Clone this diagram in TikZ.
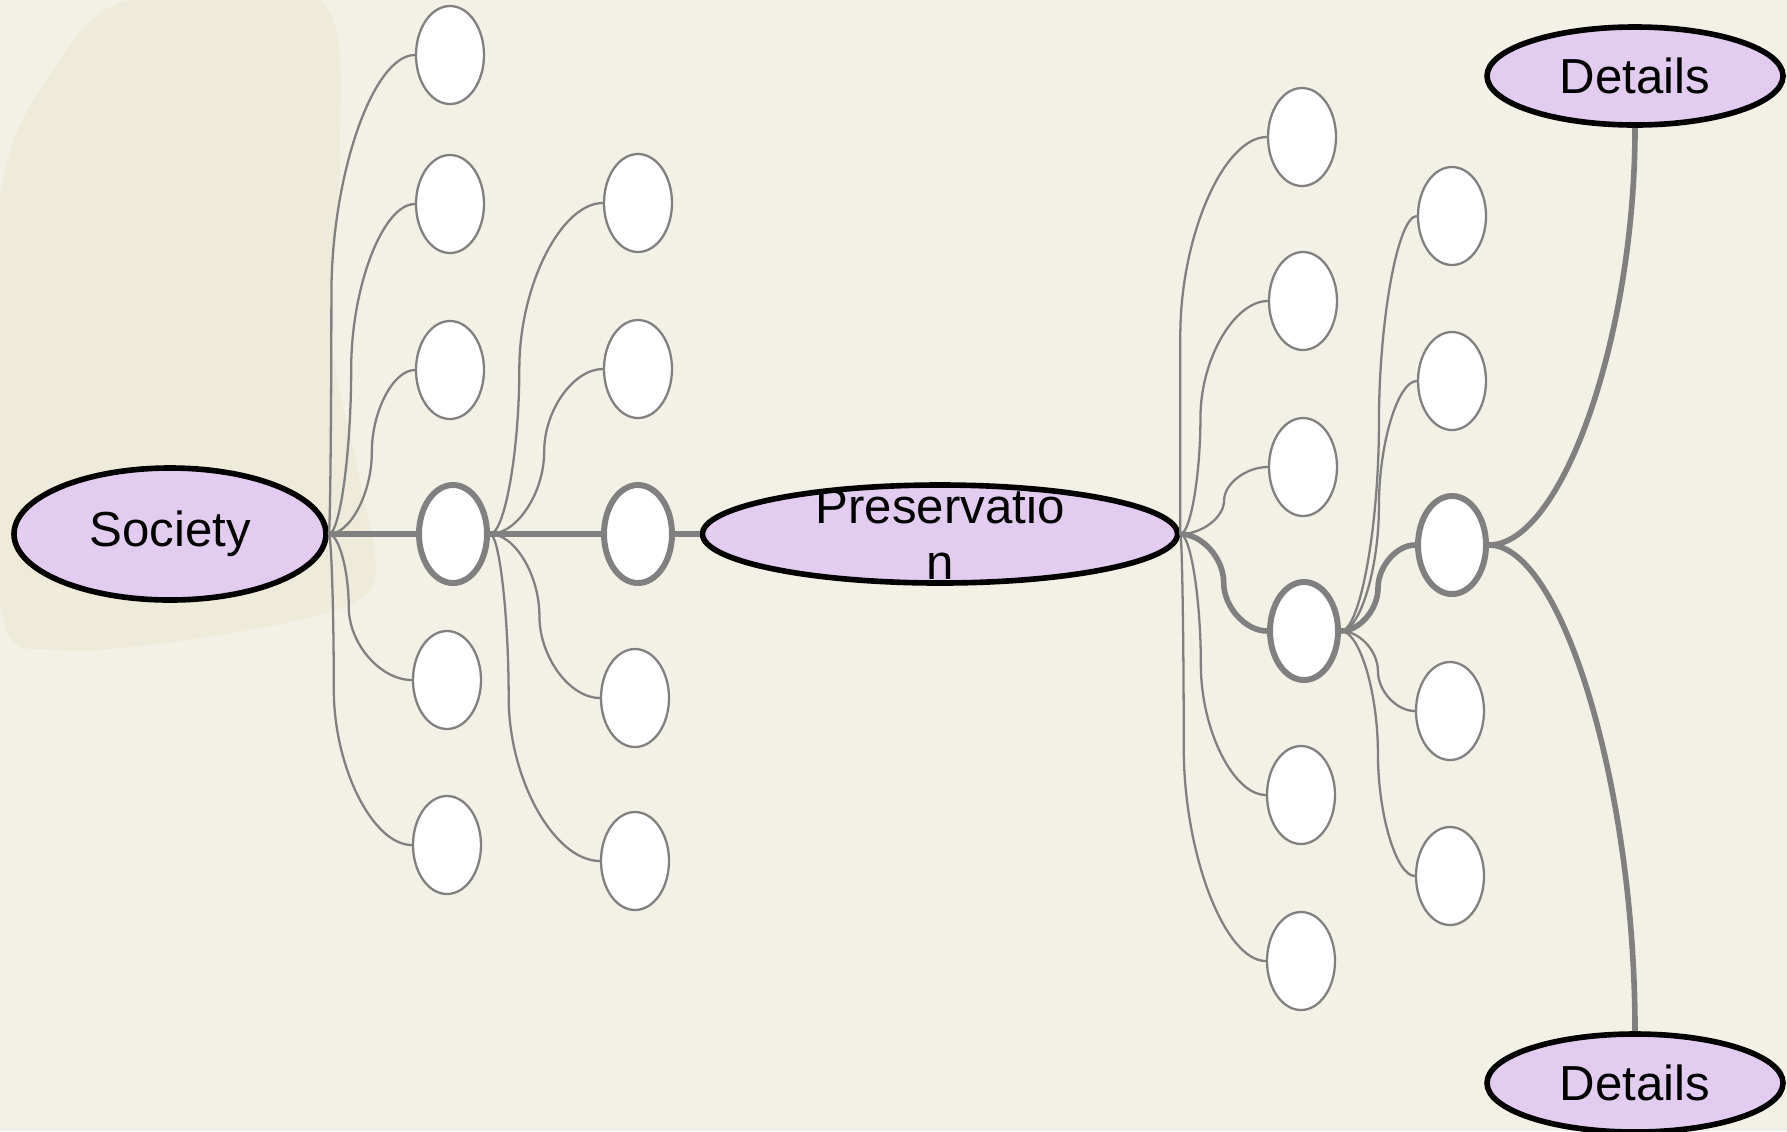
\documentclass[tikz,border=0pt]{standalone}
\usepackage{fontspec}
\setmainfont{Liberation Sans}
\usetikzlibrary{calc,shapes.geometric}
\definecolor{paper}{HTML}{F3F1E6}
\definecolor{smudge}{HTML}{E4E0C6}
\definecolor{lilac}{HTML}{E2CDF0}
\definecolor{wire}{HTML}{808080}
\begin{document}
\begin{tikzpicture}
\tikzset{
    topic/.style={ellipse, draw=black, line width=1.6pt, fill=lilac, inner sep=0pt, font=\fontsize{14}{16}\selectfont},
    leaf/.style={ellipse, draw=wire, line width=0.65pt, fill=white, minimum width=0.68cm, minimum height=0.98cm, inner sep=0pt},
    leafB/.style={leaf, line width=1.7pt},
    wireT/.style={draw=wire, line width=0.65pt},
    wireB/.style={draw=wire, line width=1.6pt},
    curv/.style={to path={let \p1=(\tikztostart),\p2=(\tikztotarget),\n1={#1*(\x2-\x1)} in
        .. controls (\x1+0.5*\n1,\y1) and (\x1+\n1,0.75*\y1+0.25*\y2) .. (\x1+\n1,0.5*\y1+0.5*\y2)
        .. controls (\x1+\n1,0.25*\y1+0.75*\y2) and ({0.5*(\x1+\n1+\x2)},\y2) .. (\tikztotarget)}},
    curv/.default=0.5,
    swing/.style={to path={let \p1=(\tikztostart),\p2=(\tikztotarget) in
        .. controls ({0.5*(\x1+\x2)},\y1) and (\x2,{0.5*(\y1+\y2)}) .. (\tikztotarget)}}}
\def\W{17.87}
\def\H{11.31}

\useasboundingbox (0,0) rectangle (\W,-\H);
\fill[paper] (0,0) rectangle (\W,-\H);
\fill[smudge, opacity=.32] plot[smooth cycle] coordinates {(1.3,0) (3.2,0) (3.4,-1.5) (3.3,-3.3) (3.6,-4.8) (3.7,-5.9) (2.5,-6.3) (0.6,-6.5) (0,-6.0) (0,-2.0) (0.6,-0.6)};

\node[topic, minimum width=3.12cm, minimum height=1.32cm] (soc) at (1.70,-5.34) {Society};
\node[topic, minimum width=4.75cm, minimum height=0.98cm] (pres) at (9.40,-5.34) {};
\node[font=\fontsize{14}{16}\selectfont, align=center, inner sep=0pt] (presT) at (pres) {Preservatio\\n};
\node[topic, minimum width=2.96cm, minimum height=0.98cm] (det1) at (16.35,-0.76) {Details};
\node[topic, minimum width=2.96cm, minimum height=0.98cm] (det2) at (16.35,-10.83) {Details};

\node[leaf] (a1) at (4.50,-0.55) {};
\node[leaf] (a2) at (4.50,-2.04) {};
\node[leaf] (a3) at (4.50,-3.70) {};
\node[leafB] (a4) at (4.53,-5.34) {};
\node[leaf] (a5) at (4.47,-6.80) {};
\node[leaf] (a6) at (4.47,-8.45) {};

\node[leaf] (b1) at (6.38,-2.03) {};
\node[leaf] (b2) at (6.38,-3.69) {};
\node[leafB] (b3) at (6.38,-5.34) {};
\node[leaf] (b4) at (6.35,-6.98) {};
\node[leaf] (b5) at (6.35,-8.61) {};

\node[leaf] (c1) at (13.02,-1.37) {};
\node[leaf] (c2) at (13.03,-3.01) {};
\node[leaf] (c3) at (13.03,-4.67) {};
\node[leafB] (c4) at (13.04,-6.31) {};
\node[leaf] (c5) at (13.01,-7.95) {};
\node[leaf] (c6) at (13.01,-9.61) {};

\node[leaf] (d1) at (14.52,-2.16) {};
\node[leaf] (d2) at (14.52,-3.81) {};
\node[leafB] (d3) at (14.52,-5.45) {};
\node[leaf] (d4) at (14.50,-7.11) {};
\node[leaf] (d5) at (14.50,-8.76) {};

\draw[wireT] (soc.east)to[curv=.03](a1.west);
\draw[wireT] (soc.east)to[curv=.26](a2.west);
\draw[wireT] (soc.east)to[curv=.5](a3.west);
\draw[wireT] (soc.east)to[curv=.24](a5.west);
\draw[wireT] (soc.east)to[curv=.06](a6.west);
\draw[wireB] (soc.east)--(a4.west);

\draw[wireT] (a4.east)to[curv=.26](b1.west);
\draw[wireT] (a4.east)to[curv=.48](b2.west);
\draw[wireT] (a4.east)to[curv=.45](b4.west);
\draw[wireT] (a4.east)to[curv=.17](b5.west);
\draw[wireB] (a4.east)--(b3.west);
\draw[wireB] (b3.east)--(pres.west);

\draw[wireT] (pres.east)to[curv=0](c1.west);
\draw[wireT] (pres.east)to[curv=.23](c2.west);
\draw[wireT] (pres.east)to[curv=.5](c3.west);
\draw[wireT] (pres.east)to[curv=.24](c5.west);
\draw[wireT] (pres.east)to[curv=.04](c6.west);
\draw[wireB] (pres.east)to[curv=.5](c4.west);

\draw[wireT] (c4.east)to[curv](d1.west);
\draw[wireT] (c4.east)to[curv](d2.west);
\draw[wireT] (c4.east)to[curv](d4.west);
\draw[wireT] (c4.east)to[curv](d5.west);
\draw[wireB] (c4.east)to[curv](d3.west);

\draw[wireB] (d3.east)to[swing](det1.south);
\draw[wireB] (d3.east)to[swing](det2.north);
\end{tikzpicture}
\end{document}
